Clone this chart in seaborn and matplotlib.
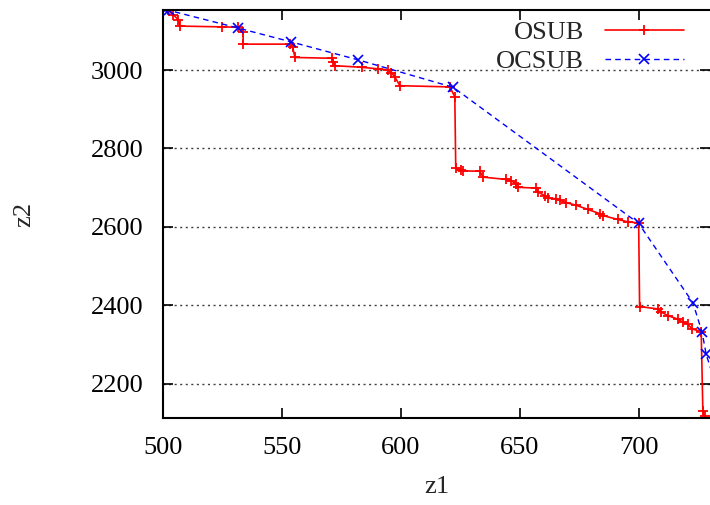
import numpy as np
import pandas as pd
import seaborn as sns
import matplotlib.pyplot as plt

# data
osub_z1 = [502.0, 504.3, 506.5, 507.0, 524.6, 531.6, 533.7, 533.7, 553.4, 554.5,
           555.5, 570.9, 571.6, 572.3, 583.5, 590.5, 594.7, 596.0, 597.5, 599.6,
           620.6, 622.7, 623.1, 625.5, 626.2, 633.2, 634.6, 644.4, 646.5, 648.6,
           649.3, 657.0, 657.7, 660.5, 662.0, 665.4, 666.8, 669.6, 673.8, 678.5,
           683.6, 685.0, 691.3, 695.5, 700.0, 700.4, 708.1, 709.5, 712.3, 716.5,
           718.6, 720.7, 722.5, 726.3, 727.0, 727.7]
osub_z2 = [3152, 3141, 3128, 3112, 3110, 3109, 3098, 3066, 3066, 3058,
           3032, 3030, 3021, 3011, 3007, 3003, 3000, 2993, 2982, 2960,
           2957, 2932, 2749, 2745, 2743, 2742, 2727, 2721, 2717, 2710,
           2701, 2699, 2689, 2680, 2673, 2672, 2668, 2662, 2655, 2645,
           2634, 2629, 2619, 2613, 2610, 2397, 2391, 2383, 2374, 2365,
           2357, 2352, 2340, 2333, 2130, 2118]

ocsub_z1 = [501.0, 502.5, 531.6, 553.7, 582.0, 622.0, 700.0, 722.8, 726.7, 728.4, 733.0]
ocsub_z2 = [3154, 3152, 3107, 3072, 3026, 2956, 2609, 2407, 2331, 2275, 2188]

sns.set_theme(style="ticks")
plt.rcParams['font.family'] = ['Liberation Serif', 'DejaVu Serif']

fig = plt.figure(figsize=(7.1, 5.05), dpi=100)
ax = fig.add_axes([163 / 710, 1 - 418 / 505, 547 / 710, 408 / 505])

sns.lineplot(x=osub_z1, y=osub_z2, sort=False, estimator=None, ax=ax,
             color='#ff0000', linewidth=1.2, marker='+', markersize=7.5,
             markeredgewidth=1.3, markeredgecolor='#ff0000', label='OSUB')
sns.lineplot(x=ocsub_z1, y=ocsub_z2, sort=False, estimator=None, ax=ax,
             color='#0000ff', linewidth=1.0, linestyle=(0, (4, 3)), marker='x',
             markersize=6.5, markeredgewidth=1.2, markeredgecolor='#0000ff',
             label='OCSUB')

ax.set_xlim(500, 730)
ax.set_ylim(2113, 3153)
ax.set_xticks([500, 550, 600, 650, 700])
ax.set_yticks([2200, 2400, 2600, 2800, 3000])
ax.yaxis.grid(True, color='0.25', linestyle=(0, (1.5, 2.5)), linewidth=1.0)
ax.xaxis.grid(False)
ax.set_axisbelow(True)

ax.tick_params(direction='in', length=7, width=1.2, labelsize=19, pad=14,
               top=True, right=True, colors='black')
for side in ['left', 'bottom', 'top']:
    ax.spines[side].set_linewidth(1.5)
    ax.spines[side].set_color('black')
ax.spines['right'].set_visible(False)

ax.set_xlabel('z1', fontsize=19, labelpad=12)
ax.set_ylabel('z2', fontsize=19, labelpad=40)

leg = ax.legend(loc='upper right', bbox_to_anchor=(684 / 710, 1 - 21 / 505),
                bbox_transform=fig.transFigure, frameon=False, markerfirst=False,
                fontsize=19, handlelength=3.0, handletextpad=0.8,
                labelspacing=0.2, borderpad=0, borderaxespad=0)

fig.savefig('out.png', dpi=100)
